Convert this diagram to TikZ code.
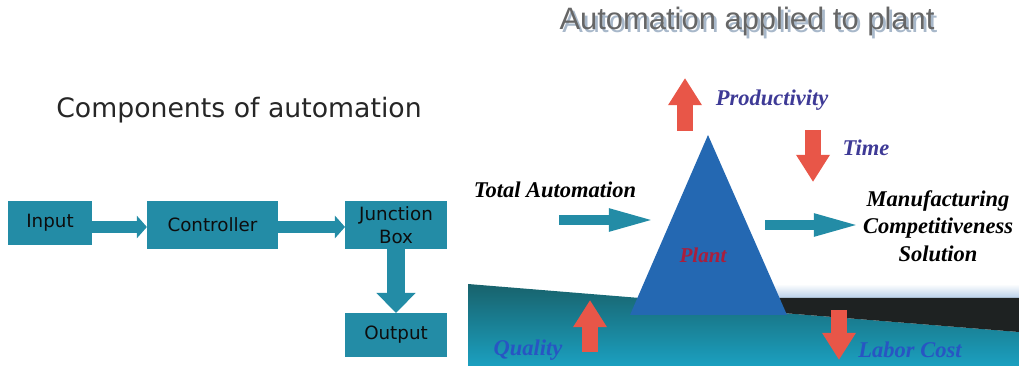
\documentclass[tikz,border=0pt]{standalone}
\usepackage{fontspec}
\setmainfont{Liberation Serif}
\newfontfamily\boxfont{DejaVu Sans}
\newfontfamily\headfont{Liberation Sans}
\usetikzlibrary{arrows.meta}

\definecolor{boxteal}{RGB}{35,140,166}
\definecolor{arrowred}{RGB}{232,86,72}
\definecolor{plantblue}{RGB}{36,104,178}
\definecolor{plantred}{RGB}{170,30,60}
\definecolor{slateblue}{RGB}{62,58,150}
\definecolor{seablue}{RGB}{40,85,195}
\definecolor{seatop}{RGB}{24,98,108}
\definecolor{seabottom}{RGB}{27,160,192}
\definecolor{shore}{RGB}{30,34,34}
\definecolor{haze}{RGB}{185,208,234}

\begin{document}
\begin{tikzpicture}[x=0.025cm, y=-0.025cm,
    comp/.style={fill=boxteal, inner sep=0pt, outer sep=0pt, text=black!95,
        font=\boxfont\fontsize{13}{16}\selectfont},
    flow/.style={boxteal, line width=0.28cm, -{Triangle[length=0.25cm, width=0.55cm]}},
    feed/.style={boxteal, line width=0.25cm, -{Triangle[length=1.2cm, width=0.5cm]}},
    redarrow/.style={arrowred, line width=0.42cm, -{Triangle[length=0.68cm, width=0.8cm]}},
    tag/.style={font=\bfseries\itshape\fontsize{16}{19.5}\selectfont}]
    \useasboundingbox (0,0) rectangle (1019,366);

    % Left side
    \node[text=black!85, font=\boxfont\fontsize{19}{23}\selectfont] (comptitle) at (239,110) {Components of automation};
    \node[comp, minimum width=2.1cm, minimum height=1.08cm] (input) at (50,223) {Input};
    \node[comp, minimum width=3.28cm, minimum height=1.2cm] (ctrl) at (212.5,225) {Controller};
    \node[comp, minimum width=2.55cm, minimum height=1.2cm, align=center] (jbox) at (396,225) {Junction\\Box};
    \node[comp, minimum width=2.55cm, minimum height=1.1cm] (output) at (396,335) {Output};
    \draw[flow] ([yshift=-0.1cm]input.east) -- ([yshift=-0.1cm]input.east -| ctrl.west);
    \draw[flow] ([yshift=-0.05cm]ctrl.east) -- ([yshift=-0.05cm]ctrl.east -| jbox.west);
    \draw[boxteal, line width=0.45cm, -{Triangle[length=0.5cm, width=0.95cm]}] (jbox.south) -- (output.north);

    % Right side
    \node[text=black!60, font=\headfont\fontsize{22}{26}\selectfont] (plantitle) at (747,23)
        {\rlap{\kern2pt\raisebox{-2pt}{\textcolor{haze!70!gray}{Automation applied to plant}}}Automation applied to plant};

    \shade[top color=seatop, bottom color=seabottom] (468,284) -- (640,298) -- (783,313) -- (1019,332) -- (1019,366) -- (468,366) -- cycle;
    \shade[top color=white, bottom color=haze] (770,284) rectangle (1019,298);
    \fill[shore] (760,298) -- (1019,298) -- (1019,332) -- (783,313) -- cycle;
    \fill[plantblue] (708,135) -- (787,315) -- (630,315) -- cycle;
    \node[tag, text=plantred, font=\bfseries\itshape\fontsize{15}{18}\selectfont] (plant) at (703,255) {Plant};

    \coordinate (taStart) at (559,220);
    \coordinate (taEnd) at (657,220);
    \coordinate (mcStart) at (765,225);
    \coordinate (mcEnd) at (862,225);
    \draw[feed] (taStart) -- (taEnd);
    \draw[feed] (mcStart) -- (mcEnd);
    \node[tag] (total) at (555,190) {Total Automation};
    \node[tag, align=center] (mcs) at (938,226) {Manufacturing\\Competitiveness\\Solution};

    \draw[redarrow] (685,131) -- (685,78);
    \node[tag, text=slateblue] (prod) at (772,100) {Productivity};
    \draw[redarrow] (813,130) -- (813,182);
    \node[tag, text=slateblue] (time) at (866,148) {Time};
    \draw[redarrow, line width=0.4cm] (590,352) -- (590,300);
    \node[tag, text=seablue] (quality) at (528,350) {Quality};
    \draw[redarrow, line width=0.4cm] (839,310) -- (839,360);
    \node[tag, text=seablue] (labor) at (910,350) {Labor Cost};
\end{tikzpicture}
\end{document}
